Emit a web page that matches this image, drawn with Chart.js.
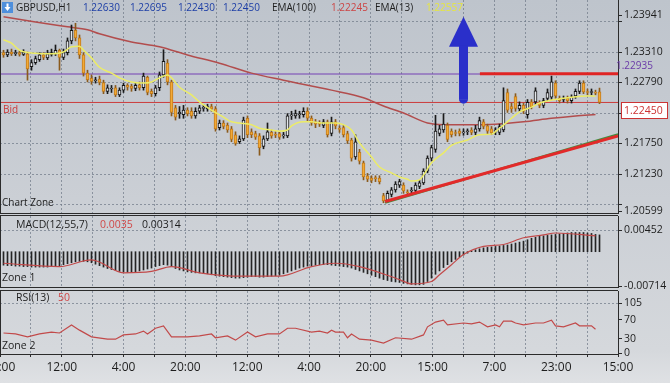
<!DOCTYPE html>
<html><head><meta charset="utf-8">
<script src="https://cdn.jsdelivr.net/npm/chart.js@4.4.1/dist/chart.umd.min.js"></script>
<style>
html,body{margin:0;padding:0;width:670px;height:383px;overflow:hidden;
background:linear-gradient(#bec4cc 0px,#cbcfd5 200px,#d5d8dc 350px,#dfe1e4 383px);}
canvas{position:absolute;left:0;top:0;}
</style></head><body>
<canvas id="main" width="670" height="383"></canvas>
<canvas id="macd" width="670" height="383"></canvas>
<canvas id="rsi" width="670" height="383"></canvas>
<script>
// ---------- data ----------
const timeLabels = ['20:00','12:00','4:00','20:00','12:00','4:00','20:00','15:00','7:00','23:00','15:00'];
const priceTicks = [1.20599,1.2071,1.2123,1.2175,1.2227,1.2279,1.2331,1.2383,1.23941];
const priceTickLabels = ['1.20599','','1.21230','1.21750','','1.22790','1.23310','','1.23941'];
const macdTicks = [-0.00714,0.00452];
const macdTickLabels = ['-0.00714','0.00452'];
const rsiTicks = [0,30,70,105];
const rsiTickLabels = ['0','30','70','105'];

const open = [
1.2330,1.2326,1.2331,1.2328,1.2330,1.2327,1.2328,1.2306,1.2313,1.2318,
1.2326,1.2321,1.2327,1.2328,1.2334,1.2322,1.2330,1.2350,1.2368,1.2355,
1.2326,1.2295,1.2286,1.2282,1.2285,1.2279,1.2264,1.2268,1.2270,1.2258,
1.2266,1.2274,1.2273,1.2269,1.2275,1.2270,1.2288,1.2264,1.2260,1.2270,
1.2292,1.2312,1.2280,1.2236,1.2226,1.2224,1.2232,1.2230,1.2222,1.2230,
1.2235,1.2234,1.2238,1.2234,1.2202,1.2210,1.2206,1.2200,1.2190,1.2178,
1.2183,1.2218,1.2195,1.2192,1.2188,1.2170,1.2183,1.2194,1.2190,1.2192,
1.2188,1.2188,1.2222,1.2222,1.2224,1.2224,1.2230,1.2218,1.2212,1.2209,
1.2206,1.2212,1.2192,1.2212,1.2200,1.2202,1.2192,1.2181,1.2152,1.2160,
1.2142,1.2120,1.2116,1.2116,1.2116,1.2086,1.2078,1.2088,1.2096,1.2104,
1.2104,1.2092,1.2094,1.2095,1.2102,1.2108,1.2128,1.2150,1.2165,1.2192,
1.2198,1.2206,1.2196,1.2193,1.2196,1.2193,1.2195,1.2198,1.2194,1.2200,
1.2212,1.2205,1.2200,1.2196,1.2194,1.2198,1.2262,1.2238,1.2255,1.2234,
1.2240,1.2224,1.2246,1.2246,1.2244,1.2240,1.2252,1.2254,1.2278,1.2252,
1.2250,1.2252,1.2248,1.2256,1.2264,1.2278,1.2263,1.2262,1.2262,1.22630];
const high = [
1.2334,1.2335,1.2336,1.2334,1.2333,1.2335,1.2331,1.2318,1.2324,1.2330,
1.2330,1.2334,1.2336,1.2343,1.2336,1.2336,1.2355,1.2377,1.2380,1.2360,
1.2330,1.2300,1.2292,1.2288,1.2290,1.2283,1.2275,1.2274,1.2274,1.2270,
1.2278,1.2277,1.2276,1.2278,1.2280,1.2295,1.2290,1.2268,1.2274,1.2297,
1.2335,1.2318,1.2283,1.2240,1.2238,1.2240,1.2236,1.2236,1.2236,1.2240,
1.2241,1.2242,1.2242,1.2238,1.2215,1.2214,1.2210,1.2204,1.2195,1.2188,
1.2220,1.2222,1.2200,1.2196,1.2192,1.2188,1.2210,1.2198,1.2195,1.2196,
1.2194,1.2226,1.2230,1.2232,1.2230,1.2236,1.2236,1.2222,1.2216,1.2214,
1.2216,1.2215,1.2220,1.2216,1.2205,1.2206,1.2196,1.2184,1.2190,1.2165,
1.2145,1.2124,1.2120,1.2120,1.2120,1.2090,1.2094,1.2100,1.2110,1.2114,
1.2108,1.2096,1.2100,1.2108,1.2112,1.2132,1.2154,1.2172,1.2223,1.2206,
1.2226,1.2210,1.2200,1.2198,1.2200,1.2200,1.2200,1.2202,1.2206,1.2220,
1.2216,1.2208,1.2204,1.2202,1.2208,1.2270,1.2268,1.2244,1.2260,1.2246,
1.2244,1.2250,1.2250,1.2270,1.2248,1.2252,1.2268,1.2290,1.2282,1.2256,
1.2256,1.2256,1.2258,1.2268,1.2282,1.2282,1.2268,1.2268,1.2266,1.22695];
const low = [
1.2322,1.2323,1.2325,1.2325,1.2324,1.2325,1.2283,1.2300,1.2310,1.2315,
1.2318,1.2318,1.2324,1.2325,1.2300,1.2318,1.2326,1.2345,1.2350,1.2320,
1.2290,1.2280,1.2276,1.2278,1.2275,1.2260,1.2260,1.2262,1.2255,1.2255,
1.2262,1.2266,1.2264,1.2265,1.2266,1.2266,1.2258,1.2255,1.2256,1.2265,
1.2288,1.2275,1.2222,1.2215,1.2218,1.2218,1.2222,1.2218,1.2218,1.2226,
1.2230,1.2230,1.2230,1.2196,1.2198,1.2200,1.2194,1.2178,1.2172,1.2175,
1.2180,1.2185,1.2185,1.2182,1.2155,1.2166,1.2180,1.2184,1.2185,1.2182,
1.2184,1.2185,1.2216,1.2218,1.2218,1.2220,1.2214,1.2206,1.2202,1.2204,
1.2202,1.2186,1.2188,1.2200,1.2194,1.2186,1.2175,1.2145,1.2148,1.2140,
1.2113,1.2110,1.2108,1.2110,1.2106,1.2074,1.2075,1.2084,1.2092,1.2100,
1.2090,1.2086,1.2088,1.2092,1.2098,1.2105,1.2125,1.2145,1.2160,1.2188,
1.2194,1.2178,1.2186,1.2188,1.2188,1.2189,1.2190,1.2190,1.2190,1.2196,
1.2200,1.2192,1.2190,1.2190,1.2190,1.2195,1.2228,1.2228,1.2230,1.2230,
1.2226,1.2218,1.2234,1.2242,1.2236,1.2236,1.2248,1.2250,1.2252,1.2244,
1.2246,1.2244,1.2244,1.2252,1.2260,1.2260,1.2258,1.2258,1.2258,1.22430];
const close = [
1.2326,1.2331,1.2328,1.2330,1.2327,1.2331,1.2302,1.2313,1.2320,1.2326,
1.2322,1.2328,1.2330,1.2334,1.2322,1.2330,1.2350,1.2368,1.2355,1.2326,
1.2295,1.2284,1.2281,1.2283,1.2279,1.2264,1.2270,1.2269,1.2258,1.2266,
1.2274,1.2271,1.2269,1.2274,1.2270,1.2290,1.2262,1.2260,1.2270,1.2292,
1.2315,1.2280,1.2228,1.2220,1.2228,1.2232,1.2226,1.2222,1.2230,1.2236,
1.2236,1.2238,1.2234,1.2200,1.2210,1.2204,1.2198,1.2182,1.2175,1.2183,
1.2215,1.2190,1.2190,1.2186,1.2168,1.2183,1.2195,1.2188,1.2189,1.2186,
1.2189,1.2222,1.2224,1.2226,1.2225,1.2230,1.2218,1.2210,1.2208,1.2208,
1.2212,1.2190,1.2212,1.2205,1.2199,1.2190,1.2180,1.2150,1.2178,1.2145,
1.2118,1.2114,1.2112,1.2115,1.2110,1.2077,1.2090,1.2096,1.2106,1.2110,
1.2094,1.2091,1.2095,1.2104,1.2108,1.2128,1.2150,1.2168,1.2196,1.2200,
1.2208,1.2182,1.2190,1.2192,1.2192,1.2194,1.2196,1.2194,1.2200,1.2214,
1.2204,1.2196,1.2193,1.2197,1.2204,1.2248,1.2232,1.2234,1.2235,1.2240,
1.2230,1.2245,1.2238,1.2265,1.2240,1.2248,1.2262,1.2280,1.2256,1.2248,
1.2251,1.2248,1.2254,1.2264,1.2278,1.2263,1.2262,1.2263,1.2261,1.22450];

const ema13Idx = [0,2,4,8,12,15,17,19,20,22,24,27,29,32,35,37,39,41,42,44,47,49,52,55,57,59,62,64,67,69,71,72,75,77,80,83,85,87,89,92,94,97,99,101,102,104,105,107,110,112,116,119,122,124,127,129,132,134,137,139,142,146,148];
const ema13Val = [1.2352,1.2346,1.2334,1.2329,1.2328,1.2331,1.2340,1.2341,1.2334,1.2321,1.2305,1.2295,1.2287,1.2280,1.2278,1.2280,1.2287,1.2292,1.2287,1.2271,1.2258,1.2246,1.2232,1.2220,1.2212,1.2210,1.2207,1.2201,1.2198,1.2196,1.2198,1.2205,1.2212,1.2212,1.2210,1.2210,1.2207,1.2198,1.2176,1.2152,1.2135,1.2125,1.2118,1.2114,1.2111,1.2113,1.2121,1.2142,1.2159,1.2172,1.2181,1.2190,1.2191,1.2201,1.2218,1.2229,1.2237,1.2244,1.2249,1.2251,1.2254,1.2256,1.22557];
const ema100Idx = [0,8,16,21,24,32,39,46,54,62,70,82,90,95,100,106,110,116,123,130,137,143,148];
const ema100Val = [1.2391,1.2382,1.2374,1.2369,1.2362,1.2348,1.2340,1.2326,1.2312,1.2295,1.2283,1.2266,1.2253,1.2239,1.2227,1.2210,1.2207,1.2207,1.2208,1.2212,1.2218,1.2222,1.22245];

const bidPrice = 1.22450;
const levelPrice = 1.22935;
const resistIdx = [119.1,153.625];
const resistVal = [1.2294,1.2294];
const trendIdx = [95.4,153.625];
const trendVal = [1.2076,1.2188];
const trendShadowVal = [1.2074,1.2191];
const arrowIdx = 115;
const arrowTip = 1.2391, arrowHeadBase = 1.2340, arrowBase = 1.2243;

const macdHist = [
-0.0028,-0.0029,-0.0029,-0.0030,-0.0030,-0.0031,-0.0031,-0.0032,-0.0032,-0.0032,
-0.0032,-0.0032,-0.0031,-0.0030,-0.0029,-0.0027,-0.0025,-0.0023,-0.0021,-0.0020,
-0.0020,-0.0021,-0.0023,-0.0026,-0.0029,-0.0032,-0.0035,-0.0037,-0.0039,-0.0041,
-0.0042,-0.0043,-0.0043,-0.0042,-0.0040,-0.0038,-0.0036,-0.0034,-0.0031,-0.0029,
-0.0027,-0.0028,-0.0031,-0.0035,-0.0038,-0.0040,-0.0042,-0.0043,-0.0044,-0.0044,
-0.0045,-0.0046,-0.0048,-0.0050,-0.0051,-0.0052,-0.0053,-0.0054,-0.0055,-0.0055,
-0.0054,-0.0053,-0.0052,-0.0052,-0.0053,-0.0053,-0.0052,-0.0051,-0.0050,-0.0049,
-0.0046,-0.0043,-0.0040,-0.0037,-0.0034,-0.0032,-0.0030,-0.0029,-0.0028,-0.0027,
-0.0027,-0.0027,-0.0028,-0.0029,-0.0030,-0.0031,-0.0032,-0.0034,-0.0037,-0.0040,
-0.0043,-0.0046,-0.0049,-0.0052,-0.0055,-0.0058,-0.0060,-0.0062,-0.0063,-0.0064,
-0.0066,-0.0067,-0.0068,-0.0069,-0.0069,-0.0068,-0.0062,-0.0055,-0.0047,-0.0040,
-0.0033,-0.0027,-0.0021,-0.0016,-0.0011,-0.0007,-0.0003,0.0001,0.0004,0.0006,
0.0008,0.0009,0.0010,0.0011,0.0012,0.0013,0.0014,0.0016,0.0018,0.0020,
0.0022,0.0025,0.0028,0.0030,0.0032,0.0033,0.0034,0.0035,0.0036,0.0037,
0.0038,0.0039,0.0040,0.0040,0.0040,0.0040,0.0039,0.0038,0.0036,0.0035];
const signalIdx = [0,14,22,30,37,42,49,60,69,77,83,89,99,102,107,109,112,115,120,125,130,135,138,148];
const signalVal = [-0.0024,-0.0031,-0.0017,-0.0044,-0.0041,-0.0031,-0.0044,-0.0051,-0.0051,-0.0031,-0.0024,-0.0031,-0.0058,-0.0067,-0.0062,-0.0048,-0.0027,-0.0006,0.0011,0.0015,0.0029,0.0035,0.0039,0.0033];

const rsiIdx = [0,3,6,9,12,14,17,19,22,26,28,30,33,35,36,38,40,42,46,49,52,53,56,58,61,63,66,69,71,73,77,79,81,82,83,85,86,87,89,92,95,98,102,105,106,108,110,111,115,117,119,121,123,124,125,127,128,130,133,135,137,138,140,143,144,147,148];
const rsiVal = [42,40,34,40,44,42,59,48,34,29,29,38,40,46,40,52,57,34,34,36,40,32,36,27,44,34,40,40,52,52,44,46,42,48,44,44,32,40,29,27,21,32,29,38,55,65,69,59,63,61,65,55,59,55,67,67,63,59,63,63,69,57,55,63,57,57,50];

// ---------- layout helpers ----------
const X_MIN = -0.875, X_MAX = 153.625;
const GRID_N = 20;
const FONT = "'Open Sans', 'Liberation Sans', Arial, sans-serif";
const FS = 10;
const GRID_COLOR = 'rgba(110,120,134,0.7)';
const AXIS_COLOR = '#2b2b2b';

function xAxis(showLabels){
  return {
    type:'linear', min:X_MIN, max:X_MAX, offset:false, position:'bottom',
    afterBuildTicks: s => { s.ticks = Array.from({length:GRID_N+1},(_,k)=>({value:X_MIN + k*(X_MAX-X_MIN)/GRID_N})); },
    afterFit: s => { s.height = showLabels ? 29 : 0; s.paddingLeft = 0; s.paddingRight = 0; },
    ticks:{display:showLabels, autoSkip:false, maxRotation:0, minRotation:0, padding:3,
      color:'#1e1e1e', font:{family:FONT,size:12},
      callback:(v,k)=> (k%2===0) ? timeLabels[k/2] : ''},
    grid:{offset:false, color:GRID_COLOR, lineWidth:1, drawTicks:showLabels, tickLength:3, tickColor:AXIS_COLOR},
    border:{display:showLabels, color:AXIS_COLOR, width:1, dash:[2,2]}
  };
}
function yAxis(min,max,ticks,labels,gridOn){
  return {
    type:'linear', position:'right', min, max,
    afterBuildTicks: s => { s.ticks = ticks.map(v=>({value:v})); },
    afterFit: s => { s.width = 52; s.paddingTop = 0; s.paddingBottom = 0; },
    ticks:{autoSkip:false, padding:2, color:'#1e1e1e', font:{family:FONT,size:FS+0.5},
      callback:(v,k)=>labels[k]},
    grid:{color: c => (c.tick && gridOn(c.tick.value)) ? GRID_COLOR : 'rgba(0,0,0,0)',
      lineWidth:1, drawTicks:true, tickLength:4, tickColor:AXIS_COLOR},
    border:{display:true, color:AXIS_COLOR, width:1, dash:[2,2]}
  };
}
const pts = (xs,ys)=>xs.map((x,k)=>({x, y:ys[k]}));
const commonOpts = {responsive:false, animation:false, events:[], devicePixelRatio:1,
  plugins:{legend:{display:false}, tooltip:{enabled:false}, title:{display:false}}};

function text(ctx,str,x,y,color,size,align){
  ctx.font = (size||FS)+'px '+FONT; ctx.fillStyle=color; ctx.textAlign=align||'left'; ctx.textBaseline='middle';
  ctx.fillText(str,x,y);
}
function paneFrame(ctx,area,top){
  ctx.save(); ctx.strokeStyle=AXIS_COLOR; ctx.lineWidth=1; ctx.setLineDash([]);
  ctx.beginPath();
  if(top){ ctx.moveTo(0,area.top-0.5); ctx.lineTo(area.right,area.top-0.5); }
  ctx.moveTo(0.5,area.top); ctx.lineTo(0.5,area.bottom);
  ctx.moveTo(0,area.bottom+0.5); ctx.lineTo(area.right,area.bottom+0.5);
  ctx.stroke(); ctx.restore();
}

// ---------- main chart ----------
const idx = close.map((_,i)=>i);
const dir = idx.map(i => close[i]>open[i] ? 1 : (close[i]<open[i] ? -1 : 0));
const bodyFill = dir.map(d => d>0 ? '#e3e6ea' : (d<0 ? '#f3aa36' : '#151515'));
const bodyBorder = dir.map(d => d>0 ? '#151515' : (d<0 ? '#c07a1c' : '#151515'));
const wickColor = dir.map(d => d<0 ? '#8a5a1c' : '#1a1a1a');

const mainDecor = {
  id:'mainDecor',
  afterDatasetsDraw(chart){
    const {ctx, scales:{x,y}} = chart;
    const cx = x.getPixelForValue(arrowIdx);
    const tip = y.getPixelForValue(arrowTip), hb = y.getPixelForValue(arrowHeadBase), bot = y.getPixelForValue(arrowBase);
    ctx.save(); ctx.fillStyle='#2a2fca';
    ctx.beginPath(); ctx.moveTo(cx,tip); ctx.lineTo(cx+14.5,hb); ctx.lineTo(cx-14.5,hb); ctx.closePath(); ctx.fill();
    ctx.fillRect(cx-4.5,hb-1,9,bot-hb-3);
    ctx.beginPath(); ctx.arc(cx,bot-4.5,4.5,0,Math.PI); ctx.fill();
    ctx.restore();
  },
  afterDraw(chart){
    const {ctx, chartArea:a, scales:{y}} = chart;
    ctx.save();
    paneFrame(ctx,a,false);
    ctx.fillStyle='#4e8fdc'; ctx.fillRect(2,2,11,11);
    ctx.fillStyle='#ffffff'; ctx.beginPath(); ctx.moveTo(4.5,7); ctx.lineTo(10.5,7); ctx.lineTo(7.5,11); ctx.closePath(); ctx.fill();
    ctx.fillRect(6.5,3.5,2,4);
    text(ctx,'GBPUSD,H1',16,8,'#1e1e1e');
    const ohlcTxt = ['1.22630','1.22695','1.22430','1.22450'];
    const ox = [83,130,178,223];
    ohlcTxt.forEach((t,k)=>text(ctx,t,ox[k],8,'#1d3ea6'));
    text(ctx,'EMA(100)',272,8,'#1e1e1e');
    text(ctx,'1.22245',331,8,'#cc4444');
    text(ctx,'EMA(13)',375,8,'#1e1e1e');
    text(ctx,'1.22557',426,8,'#e6e640');
    const ly = y.getPixelForValue(levelPrice);
    text(ctx,'1.22935',a.right-2,ly-8,'#6a3aa8');
    const by = y.getPixelForValue(bidPrice);
    text(ctx,'Bid',3,by+8,'#cc3b3b');
    ctx.fillStyle='#ffffff'; ctx.fillRect(a.right+3.5,Math.round(by)+0.5,46,16);
    ctx.strokeStyle='#cc3333'; ctx.lineWidth=1; ctx.strokeRect(a.right+3.5,Math.round(by)+0.5,46,16);
    text(ctx,'1.22450',a.right+6,Math.round(by)+9,'#cc3333',FS+0.5);
    text(ctx,'Chart Zone',2,a.bottom-10,'#1e1e1e');
    ctx.restore();
  }
};

new Chart(document.getElementById('main'), {
  type:'bar',
  data:{datasets:[
    {type:'line', data:pts([X_MIN,X_MAX],[levelPrice,levelPrice]), borderColor:'#7440b4', borderWidth:1, pointRadius:0, order:20},
    {type:'line', data:pts([X_MIN,X_MAX],[bidPrice,bidPrice]), borderColor:'#cc3b3b', borderWidth:1, pointRadius:0, order:19},
    {type:'line', data:pts(ema100Idx,ema100Val), borderColor:'#b24d4d', borderWidth:1.5, pointRadius:0, cubicInterpolationMode:'monotone', order:18},
    {type:'bar', data:idx.map(i=>({x:i,y:[low[i],high[i]]})), backgroundColor:wickColor, barThickness:1, grouped:false, order:12},
    {type:'bar', data:idx.map(i=>({x:i,y:[open[i],close[i]]})), backgroundColor:bodyFill, borderColor:bodyBorder, borderWidth:1, borderSkipped:false, barThickness:3, minBarLength:1, grouped:false, order:11},
    {type:'line', data:pts(ema13Idx,ema13Val), borderColor:'#ecec66', borderWidth:1.5, pointRadius:0, cubicInterpolationMode:'monotone', order:5},
    {type:'line', data:pts(resistIdx,resistVal), borderColor:'#e02424', borderWidth:3, pointRadius:0, order:4},
    {type:'line', data:pts(trendIdx,trendShadowVal), borderColor:'#3f8f3f', borderWidth:2, pointRadius:0, order:3},
    {type:'line', data:pts(trendIdx,trendVal), borderColor:'#e22a2a', borderWidth:3, pointRadius:0, order:2}
  ]},
  options:Object.assign({}, commonOpts, {
    layout:{padding:{left:0,right:0,top:0,bottom:170}},
    scales:{
      x:xAxis(false),
      y:yAxis(1.20565,1.24197,priceTicks,priceTickLabels,v=>v>1.207 && v<1.239)
    }
  }),
  plugins:[mainDecor]
});

// ---------- MACD ----------
const macdDecor = {
  id:'macdDecor',
  afterDraw(chart){
    const {ctx, chartArea:a} = chart;
    ctx.save();
    paneFrame(ctx,a,true);
    text(ctx,'MACD(12,55,7)',16,a.top+9,'#1e1e1e',FS+0.5);
    text(ctx,'0.0035',100,a.top+9,'#d04848',FS+0.5);
    text(ctx,'0.00314',142,a.top+9,'#1e1e1e',FS+0.5);
    text(ctx,'Zone 1',2,a.bottom-9,'#1e1e1e',FS+0.5);
    ctx.restore();
  }
};
new Chart(document.getElementById('macd'), {
  type:'bar',
  data:{datasets:[
    {type:'line', data:pts(signalIdx,signalVal), borderColor:'#c24a4a', borderWidth:1.2, pointRadius:0, cubicInterpolationMode:'monotone', order:1},
    {type:'bar', data:idx.map(i=>({x:i,y:macdHist[i]})), backgroundColor:'#242424', barThickness:1, grouped:false, order:5}
  ]},
  options:Object.assign({}, commonOpts, {
    layout:{padding:{left:0,right:0,top:216,bottom:96}},
    scales:{
      x:xAxis(false),
      y:yAxis(-0.007348,0.007435,macdTicks,macdTickLabels,v=>v>0)
    }
  }),
  plugins:[macdDecor]
});

// ---------- RSI ----------
const rsiDecor = {
  id:'rsiDecor',
  afterDraw(chart){
    const {ctx, chartArea:a} = chart;
    ctx.save();
    paneFrame(ctx,a,true);
    text(ctx,'RSI(13)',16,a.top+7,'#1e1e1e',FS+0.5);
    text(ctx,'50',58,a.top+7,'#d04848',FS+0.5);
    text(ctx,'Zone 2',2,a.bottom-8,'#1e1e1e',FS+0.5);
    ctx.restore();
  }
};
new Chart(document.getElementById('rsi'), {
  type:'line',
  data:{datasets:[
    {data:pts(rsiIdx,rsiVal), borderColor:'#c24a4a', borderWidth:1.2, pointRadius:0, tension:0}
  ]},
  options:Object.assign({}, commonOpts, {
    layout:{padding:{left:0,right:0,top:291,bottom:0}},
    scales:{
      x:xAxis(true),
      y:yAxis(-2.1,130.2,rsiTicks,rsiTickLabels,v=>v>100)
    }
  }),
  plugins:[rsiDecor]
});
</script>
</body></html>
